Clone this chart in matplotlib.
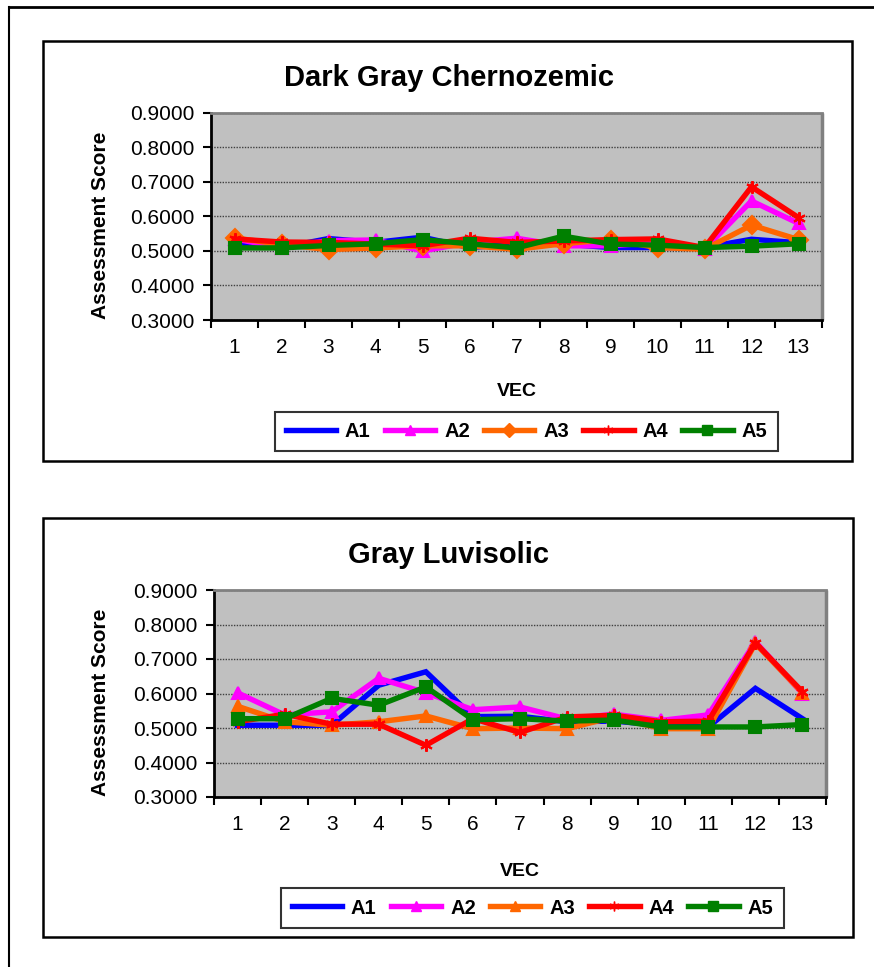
import numpy as np
import matplotlib
matplotlib.use('Agg')
from matplotlib import pyplot as plt
from matplotlib.lines import Line2D
from matplotlib.patches import Rectangle

plt.rcParams['font.family'] = ['Liberation Sans', 'DejaVu Sans']

vec = np.arange(1, 14)
series_names = ['A1', 'A2', 'A3', 'A4', 'A5']

# Dark Gray Chernozemic
dgc_a1 = [0.521, 0.510, 0.536, 0.525, 0.540, 0.510, 0.520, 0.520, 0.510, 0.510, 0.510, 0.534, 0.524]
dgc_a2 = [0.535, 0.510, 0.530, 0.532, 0.500, 0.525, 0.537, 0.515, 0.515, 0.525, 0.505, 0.645, 0.580]
dgc_a3 = [0.538, 0.519, 0.504, 0.509, 0.515, 0.515, 0.505, 0.521, 0.533, 0.510, 0.505, 0.575, 0.533]
dgc_a4 = [0.535, 0.526, 0.525, 0.520, 0.515, 0.537, 0.525, 0.529, 0.533, 0.535, 0.510, 0.686, 0.597]
dgc_a5 = [0.509, 0.509, 0.516, 0.521, 0.533, 0.521, 0.509, 0.543, 0.520, 0.517, 0.510, 0.514, 0.521]

# Gray Luvisolic
gl_a1 = [0.508, 0.508, 0.508, 0.624, 0.663, 0.533, 0.534, 0.518, 0.520, 0.508, 0.503, 0.615, 0.527]
gl_a2 = [0.602, 0.538, 0.547, 0.644, 0.602, 0.553, 0.561, 0.526, 0.540, 0.522, 0.538, 0.750, 0.600]
gl_a3 = [0.563, 0.518, 0.508, 0.518, 0.535, 0.498, 0.500, 0.498, 0.532, 0.498, 0.498, 0.745, 0.602]
gl_a4 = [0.518, 0.540, 0.511, 0.511, 0.450, 0.527, 0.487, 0.532, 0.537, 0.518, 0.520, 0.747, 0.605]
gl_a5 = [0.527, 0.527, 0.586, 0.566, 0.619, 0.524, 0.527, 0.520, 0.523, 0.503, 0.503, 0.503, 0.510]

yticks = [0.3, 0.4, 0.5, 0.6, 0.7, 0.8, 0.9]

colors = ['#0000FF', '#FF00FF', '#FF6600', '#FF0000', '#008000']
star = (6, 2, 0)

W, H = 874, 967
fig = plt.figure(figsize=(W / 100, H / 100), dpi=100)


def fx(px):
    return px / W


def fy(py):
    return 1 - py / H


# outer frame (top and left edges only)
fig.add_artist(Line2D([fx(9), 1], [fy(7), fy(7)], color='black', lw=2))
fig.add_artist(Line2D([fx(9), fx(9)], [fy(7), 0], color='black', lw=1.5))


def chart_box(x0, y0, x1, y1):
    fig.add_artist(Rectangle((fx(x0), fy(y1)), fx(x1 - x0), (y1 - y0) / H,
                             fill=False, edgecolor='black', lw=1.8))


def draw_chart(box, plot, title, title_y, data, markers, legend_box, ylab_y, vec_y):
    chart_box(*box)
    x0, y0, x1, y1 = plot
    ax = fig.add_axes([fx(x0), fy(y1), fx(x1 - x0), (y1 - y0) / H])
    ax.set_facecolor('#C0C0C0')
    handles = []
    for vals, name, c, m in zip(data, series_names, colors, markers):
        ms = 9 if m is not None else 0
        h, = ax.plot(vec, vals, color=c, lw=3.9, marker=m, markersize=ms,
                     markeredgecolor=c, markeredgewidth=1.5, label=name,
                     solid_joinstyle='miter')
        handles.append(h)
    ax.set_xlim(0.5, 13.5)
    ax.set_ylim(0.3, 0.9)
    ax.set_yticks(yticks)
    ax.set_yticklabels([f'{v:.4f}' for v in yticks])
    ax.set_xticks(vec)
    ax.set_xticks(np.arange(0.5, 14.0, 1.0), minor=True)
    ax.tick_params(axis='x', which='major', length=0, pad=13, labelsize=15)
    ax.tick_params(axis='x', which='minor', length=6, width=1.5, direction='out')
    ax.tick_params(axis='y', length=6, width=1.5, pad=6, labelsize=15)
    ax.yaxis.grid(True, linestyle=(0, (1, 1)), color='#404040', lw=1)
    for s in ['left', 'bottom']:
        ax.spines[s].set_linewidth(2)
        ax.spines[s].set_color('black')
    ax.spines['top'].set_color('#808080')
    ax.spines['top'].set_linewidth(2)
    ax.spines['right'].set_color('#808080')
    ax.spines['right'].set_linewidth(2.5)
    ax.spines['right'].set_capstyle('butt')

    fig.text(fx(449), fy(title_y), title, ha='center', va='center',
             fontsize=21, fontweight='bold')
    fig.text(fx(101), fy(ylab_y), 'Assessment Score', ha='center', va='center',
             rotation=90, fontsize=15, fontweight='bold')
    fig.text(fx((x0 + x1) / 2), fy(vec_y), 'VEC', ha='center', va='center',
             fontsize=14, fontweight='bold')

    lx0, ly0, lx1, ly1 = legend_box
    leg_handles = []
    for h, m in zip(handles, markers):
        leg_handles.append(Line2D([], [], color=h.get_color(), lw=3.9, marker=m,
                                  markersize=7 if m is not None else 0,
                                  markeredgecolor=h.get_color()))
    leg = fig.legend(leg_handles, series_names, loc='center', ncol=5,
                     bbox_to_anchor=(fx((lx0 + lx1) / 2), fy((ly0 + ly1) / 2)),
                     prop={'size': 14.5, 'weight': 'bold'}, handlelength=2.5,
                     handletextpad=0.45, columnspacing=0.7, borderpad=0.5,
                     frameon=True, fancybox=False, edgecolor='black')
    leg.get_frame().set_linewidth(1.5)
    return ax


draw_chart((43, 41, 852, 461), (211, 113, 822, 320), 'Dark Gray Chernozemic', 78,
           [dgc_a1, dgc_a2, dgc_a3, dgc_a4, dgc_a5],
           [None, '^', 'D', star, 's'], (277, 410, 776, 453), 225, 392)

draw_chart((43, 518, 853, 937), (214, 590, 826, 797), 'Gray Luvisolic', 555,
           [gl_a1, gl_a2, gl_a3, gl_a4, gl_a5],
           [None, '^', '^', star, 's'], (283, 887, 782, 929), 702, 871)

fig.savefig('out.png', dpi=100)
